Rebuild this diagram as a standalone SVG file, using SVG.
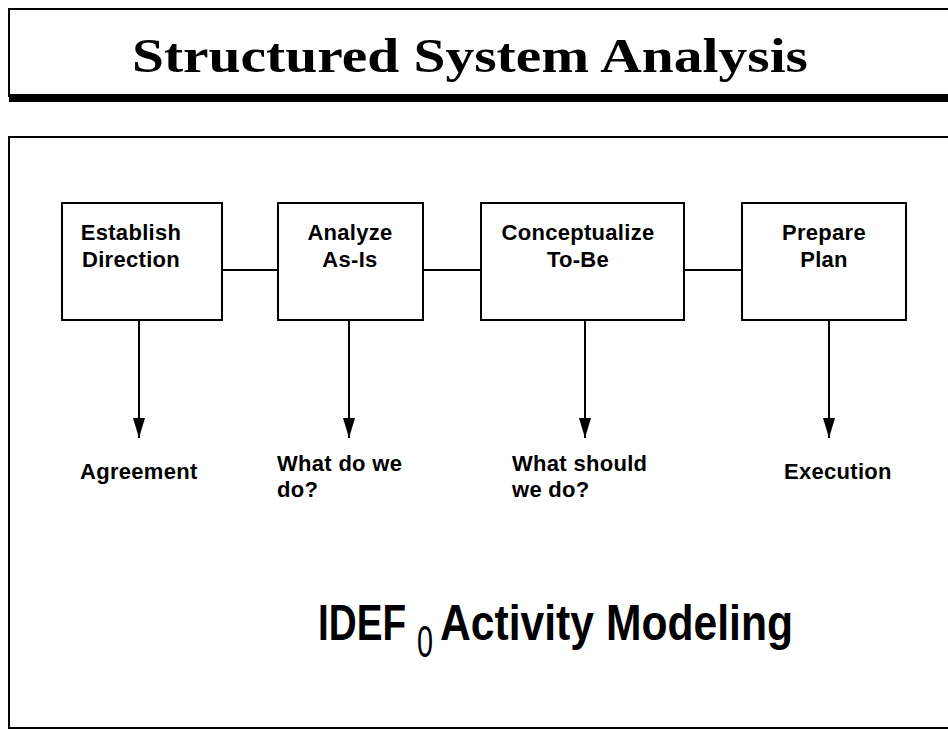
<svg xmlns="http://www.w3.org/2000/svg" width="948" height="730" viewBox="0 0 948 730">
<defs>
<style>
.frame{fill:none;stroke:#000;stroke-width:2}
.box{fill:#fff;stroke:#000;stroke-width:2}
.conn{stroke:#000;stroke-width:2;fill:none}
.t{font-family:"Liberation Sans",Arial,sans-serif;font-weight:bold;font-size:22px;letter-spacing:0.3px;fill:#000}
.title{font-family:"Liberation Serif","Times New Roman",serif;font-weight:bold;font-size:48px;fill:#000}
.big{font-family:"Liberation Sans",Arial,sans-serif;font-weight:bold;font-size:50px;fill:#000}
.sub{font-family:"Liberation Sans",Arial,sans-serif;font-weight:normal;font-size:44px;fill:#000}
</style>
<marker id="ah" viewBox="0 0 20 12" refX="20" refY="6" markerWidth="20" markerHeight="12" markerUnits="userSpaceOnUse" orient="auto">
<path d="M0,0 L20,6 L0,12 z" fill="#000"/>
</marker>
</defs>
<rect width="948" height="730" fill="#fff"/>
<g id="title">
<path class="frame" d="M948,9 H9 V97"/>
<rect x="9" y="94" width="939" height="8" fill="#000"/>
<text class="title" x="470" y="72" text-anchor="middle" textLength="676" lengthAdjust="spacingAndGlyphs">Structured System Analysis</text>
</g>
<g id="panel">
<path class="frame" d="M948,137 H9 V728 H948"/>
</g>
<g id="connectors">
<line class="conn" x1="222" y1="270" x2="278" y2="270"/>
<line class="conn" x1="423" y1="270" x2="481" y2="270"/>
<line class="conn" x1="684" y1="270" x2="742" y2="270"/>
<line class="conn" x1="139" y1="320" x2="139" y2="438" marker-end="url(#ah)"/>
<line class="conn" x1="349" y1="320" x2="349" y2="438" marker-end="url(#ah)"/>
<line class="conn" x1="585" y1="320" x2="585" y2="438" marker-end="url(#ah)"/>
<line class="conn" x1="829" y1="320" x2="829" y2="438" marker-end="url(#ah)"/>
</g>
<g id="establish">
<rect class="box" x="62" y="203" width="160" height="117"/>
<text class="t" x="131" y="240" text-anchor="middle">Establish</text>
<text class="t" x="131" y="267" text-anchor="middle">Direction</text>
</g>
<g id="analyze">
<rect class="box" x="278" y="203" width="145" height="117"/>
<text class="t" x="350" y="240" text-anchor="middle">Analyze</text>
<text class="t" x="350" y="267" text-anchor="middle">As-Is</text>
</g>
<g id="conceptualize">
<rect class="box" x="481" y="203" width="203" height="117"/>
<text class="t" x="578" y="240" text-anchor="middle">Conceptualize</text>
<text class="t" x="578" y="267" text-anchor="middle">To-Be</text>
</g>
<g id="prepare">
<rect class="box" x="742" y="203" width="164" height="117"/>
<text class="t" x="824" y="240" text-anchor="middle">Prepare</text>
<text class="t" x="824" y="267" text-anchor="middle">Plan</text>
</g>
<g id="labels">
<text class="t" x="80" y="479">Agreement</text>
<text class="t" x="277" y="471">What do we</text>
<text class="t" x="277" y="497">do?</text>
<text class="t" x="512" y="471">What should</text>
<text class="t" x="512" y="497">we do?</text>
<text class="t" x="784" y="479">Execution</text>
</g>
<g id="caption">
<text class="big" x="318" y="640" textLength="88" lengthAdjust="spacingAndGlyphs">IDEF</text>
<text class="sub" x="417" y="657" textLength="16" lengthAdjust="spacingAndGlyphs">0</text>
<text class="big" x="440" y="640" textLength="353" lengthAdjust="spacingAndGlyphs">Activity Modeling</text>
</g>
</svg>
